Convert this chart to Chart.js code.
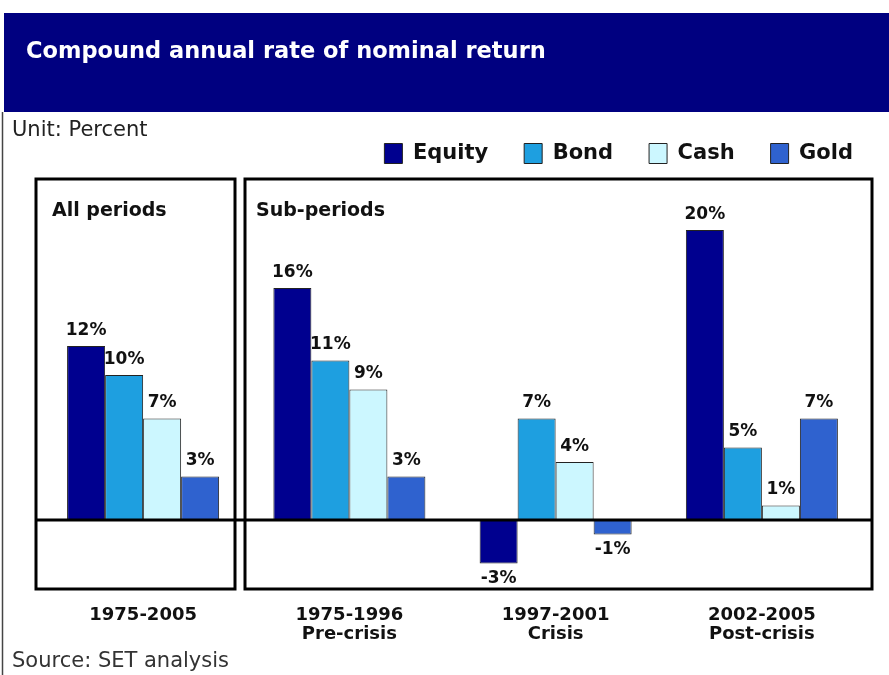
<!DOCTYPE html>
<html>
<head>
<meta charset="utf-8">
<script src="https://cdn.jsdelivr.net/npm/chart.js@4.4.1/dist/chart.umd.min.js"></script>
<style>
  html, body { margin: 0; padding: 0; background: #fff; }
  canvas { display: block; }
</style>
</head>
<body>
<canvas id="returnChart" width="889" height="675"></canvas>
<script>
const categories = [['1975-2005'], ['1975-1996', 'Pre-crisis'], ['1997-2001', 'Crisis'], ['2002-2005', 'Post-crisis']];
const seriesNames = ['Equity', 'Bond', 'Cash', 'Gold'];
const equity = [12, 16, -3, 20];
const bond = [10, 11, 7, 5];
const cash = [7, 9, 4, 1];
const gold = [3, 3, -1, 7];

const colors = ['#00008f', '#1e9fe0', '#ccf7ff', '#2f62cf'];

Chart.defaults.font.family = "'DejaVu Sans', sans-serif";
Chart.defaults.color = '#111';

// header band, titles, boxes and the zero line
const frame = {
    id: 'frame',
    beforeDraw(chart) {
        const ctx = chart.ctx;
        ctx.save();
        ctx.fillStyle = '#fff';
        ctx.fillRect(0, 0, chart.width, chart.height);

        ctx.fillStyle = '#000080';
        ctx.fillRect(4, 13, chart.width - 4, 99);
        ctx.fillStyle = '#fff';
        ctx.font = "bold 22.5px 'DejaVu Sans'";
        ctx.textBaseline = 'alphabetic';
        ctx.fillText('Compound annual rate of nominal return', 26, 58);

        ctx.strokeStyle = '#444';
        ctx.lineWidth = 1.5;
        ctx.beginPath();
        ctx.moveTo(2.5, 112);
        ctx.lineTo(2.5, chart.height);
        ctx.stroke();

        ctx.fillStyle = '#222';
        ctx.font = "21px 'DejaVu Sans'";
        ctx.fillText('Unit: Percent', 12, 136);
        ctx.fillStyle = '#333';
        ctx.fillText('Source: SET analysis', 12, 667);
        ctx.restore();
    },
    afterDatasetsDraw(chart) {
        const ctx = chart.ctx;
        const area = chart.chartArea;
        const y0 = chart.scales.y.getPixelForValue(0);
        const top = area.top + 5;
        ctx.save();
        ctx.strokeStyle = '#000';
        ctx.lineWidth = 3;
        ctx.strokeRect(area.left - 4, top, 199, area.bottom - top);
        ctx.strokeRect(245, top, area.right + 7 - 245, area.bottom - top);
        ctx.beginPath();
        ctx.moveTo(area.left - 4, y0);
        ctx.lineTo(area.right + 7, y0);
        ctx.stroke();

        ctx.fillStyle = '#111';
        ctx.font = "bold 19px 'DejaVu Sans'";
        ctx.fillText('All periods', 52, 211);
        ctx.fillText('Sub-periods', 256, 211);

        // value labels
        ctx.font = "bold 17px 'DejaVu Sans'";
        ctx.textAlign = 'center';
        chart.data.datasets.forEach((ds, d) => {
            chart.getDatasetMeta(d).data.forEach((bar, i) => {
                const v = ds.data[i];
                if (v >= 0) {
                    ctx.textBaseline = 'alphabetic';
                    ctx.fillText(v + '%', bar.x, bar.y - 11);
                } else {
                    ctx.textBaseline = 'alphabetic';
                    ctx.fillText(v + '%', bar.x, bar.y + 20);
                }
            });
        });
        ctx.restore();
    }
};

const seriesData = [equity, bond, cash, gold];

new Chart(document.getElementById('returnChart'), {
    type: 'bar',
    data: {
        labels: categories,
        datasets: seriesNames.map((name, i) => ({
            label: name,
            data: seriesData[i],
            backgroundColor: colors[i],
            borderColor: '#222',
            borderWidth: 1,
            categoryPercentage: 0.737,
            barPercentage: 1.0
        }))
    },
    options: {
        responsive: false,
        animation: false,
        layout: { padding: { top: 107, left: 0, right: 0, bottom: 0 } },
        plugins: {
            legend: {
                position: 'top',
                align: 'end',
                labels: {
                    boxWidth: 18,
                    boxHeight: 20,
                    padding: 36,
                    color: '#111',
                    font: { size: 21, weight: 'bold' }
                }
            },
            tooltip: { enabled: false }
        },
        scales: {
            x: {
                grid: { display: false, drawTicks: false },
                border: { display: false },
                ticks: {
                    padding: 16,
                    color: '#111',
                    font: { size: 18, weight: 'bold', lineHeight: 1.1 }
                },
                afterFit: (s) => { s.height = 86; }
            },
            y: {
                min: -4.759,
                max: 23.862,
                grid: { display: false, drawTicks: false },
                border: { display: false },
                ticks: { display: false },
                afterFit: (s) => { s.width = 40; }
            },
            yRight: {
                type: 'linear',
                position: 'right',
                grid: { display: false, drawTicks: false },
                border: { display: false },
                ticks: { display: false },
                afterFit: (s) => { s.width = 24; }
            }
        }
    },
    plugins: [frame]
});
</script>
</body>
</html>
